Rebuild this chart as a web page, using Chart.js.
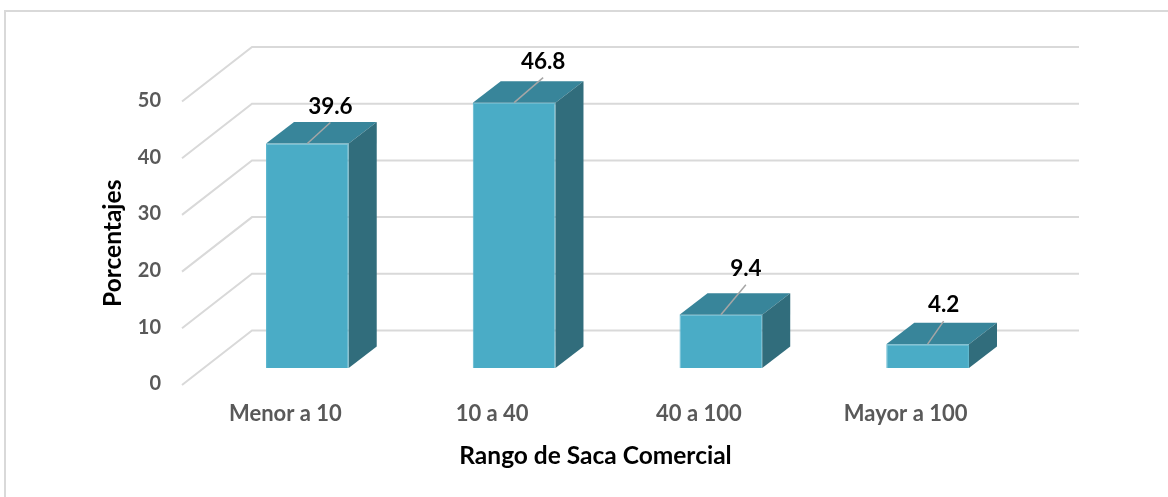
<!DOCTYPE html>
<html lang="es">
<head>
<meta charset="UTF-8">
<title>Rango de Saca Comercial</title>
<script src="https://cdn.jsdelivr.net/npm/chart.js@4"></script>
<style>
    body { margin: 0; background: #fff; }
    #wrap { width: 1168px; height: 497px; position: relative; }
</style>
</head>
<body>
<div id="wrap"><canvas id="chart" width="1168" height="497"></canvas></div>
<script>
    // Data
    const categories = ['Menor a 10', '10 a 40', '40 a 100', 'Mayor a 100'];
    const percentages = [39.6, 46.8, 9.4, 4.2];
    const yTicks = [0, 10, 20, 30, 40, 50];

    // Look of the pseudo-3D box
    const FRONT = '#4aacc6';
    const TOP = '#38859a';
    const SIDE = '#316d7c';
    const GRID = '#d9d9d9';
    const FONT = 'Lato, "Open Sans", sans-serif';

    const depth = { dx: 28, dy: -21.5 };      // bar thickness
    const wall = { dx: 48, dy: -37.5 };       // back wall from bar front plane
    const floor = { dx: -22, dy: 17 };        // axis plane from bar front plane
    // where each value label sits relative to the top of its bar
    const labelShift = [[23, -37], [29, -41], [25, -46], [16, -39]];

    const box3d = {
        id: 'box3d',
        beforeDatasetsDraw(chart) {
            const { ctx, chartArea, scales: { y } } = chart;
            ctx.save();
            ctx.strokeStyle = GRID;
            ctx.lineWidth = 2;
            yTicks.forEach(v => {
                const py = y.getPixelForValue(v);
                ctx.beginPath();
                ctx.moveTo(chartArea.left + floor.dx, py + floor.dy);
                ctx.lineTo(chartArea.left + wall.dx, py + wall.dy);
                ctx.lineTo(chartArea.right + wall.dx, py + wall.dy);
                ctx.stroke();
            });

            // tick labels on the front plane
            ctx.fillStyle = '#595959';
            ctx.font = 'bold 20px ' + FONT;
            ctx.textAlign = 'right';
            ctx.textBaseline = 'middle';
            yTicks.forEach(v => {
                ctx.fillText(String(v), 161, y.getPixelForValue(v) + floor.dy - 1);
            });

            // category labels
            const x = chart.scales.x;
            ctx.textAlign = 'center';
            ctx.font = 'bold 22px ' + FONT;
            categories.forEach((c, i) => {
                ctx.fillText(c, x.getPixelForValue(i) + floor.dx, chartArea.bottom + 46);
            });

            // axis titles
            ctx.fillStyle = '#000';
            ctx.font = 'bold 24.5px ' + FONT;
            ctx.fillText('Rango de Saca Comercial', (chartArea.left + chartArea.right) / 2 + floor.dx, chartArea.bottom + 88);
            ctx.save();
            ctx.translate(113, (chartArea.top + chartArea.bottom) / 2 + floor.dy);
            ctx.rotate(-Math.PI / 2);
            ctx.fillText('Porcentajes', 0, 0);
            ctx.restore();

            // outer frame
            ctx.strokeStyle = GRID;
            ctx.lineWidth = 2;
            ctx.strokeRect(5, 11, chart.width + 20, chart.height + 20);
            ctx.restore();
        },
        afterDatasetsDraw(chart) {
            const { ctx } = chart;
            const bars = chart.getDatasetMeta(0).data;
            ctx.save();
            bars.forEach((bar, i) => {
                const { x, y, base, width } = bar.getProps(['x', 'y', 'base', 'width'], true);
                const l = x - width / 2, r = x + width / 2;

                ctx.fillStyle = TOP;
                ctx.beginPath();
                ctx.moveTo(l, y);
                ctx.lineTo(l + depth.dx, y + depth.dy);
                ctx.lineTo(r + depth.dx, y + depth.dy);
                ctx.lineTo(r, y);
                ctx.closePath();
                ctx.fill();

                ctx.fillStyle = SIDE;
                ctx.beginPath();
                ctx.moveTo(r, y);
                ctx.lineTo(r + depth.dx, y + depth.dy);
                ctx.lineTo(r + depth.dx, base + depth.dy);
                ctx.lineTo(r, base);
                ctx.closePath();
                ctx.fill();

                // value label with leader line
                const [sx, sy] = labelShift[i];
                const lx = x + sx, ly = y + sy;
                ctx.strokeStyle = '#a6a6a6';
                ctx.lineWidth = 1.5;
                ctx.beginPath();
                ctx.moveTo(x, y);
                ctx.lineTo(lx, ly + 16);
                ctx.stroke();

                ctx.fillStyle = '#000';
                ctx.font = 'bold 22.5px ' + FONT;
                ctx.textAlign = 'center';
                ctx.textBaseline = 'middle';
                ctx.fillText(percentages[i].toFixed(1), lx, ly);
            });
            ctx.restore();
        }
    };

    new Chart(document.getElementById('chart'), {
        type: 'bar',
        data: {
            labels: categories,
            datasets: [{
                data: percentages,
                backgroundColor: FRONT,
                borderColor: '#5bb6ce',
                borderWidth: 1,
                categoryPercentage: 1,
                barPercentage: 0.4
            }]
        },
        options: {
            responsive: false,
            animation: false,
            devicePixelRatio: 1,
            layout: { padding: { left: 204, right: 137, top: 84.5, bottom: 129 } },
            plugins: { legend: { display: false }, tooltip: { enabled: false } },
            scales: {
                x: { display: false },
                y: { display: false, min: 0, max: 50 }
            }
        },
        plugins: [box3d]
    });
</script>
</body>
</html>
